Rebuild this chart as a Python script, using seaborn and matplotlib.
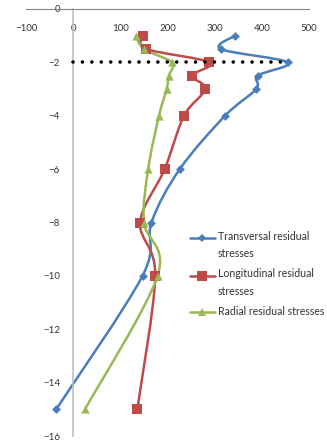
import numpy as np
import pandas as pd
import matplotlib
matplotlib.use("Agg")
import matplotlib.pyplot as plt
import seaborn as sns
from matplotlib.path import Path
from matplotlib.patches import PathPatch
from matplotlib.lines import Line2D
from matplotlib.legend_handler import HandlerLine2D

# depth below surface vs. residual stress
depth = [-1, -1.5, -2, -2.5, -3, -4, -6, -8, -10, -15]
transversal = [343, 313, 455, 391, 388, 322, 226, 166, 147, -36]
longitudinal = [147, 155, 289, 252, 280, 235, 194, 142, 174, 136]
radial = [133, 150, 209, 203, 198, 182, 159, 150, 179, 25]

labels = ["Transversal residual\nstresses",
          "Longitudinal residual\nstresses",
          "Radial residual stresses"]
colors = ["#4A7EBB", "#BE4B48", "#98B954"]
markers = ["D", "s", "^"]
msizes = [4.5, 6.5, 6]

ref_x = [0, 455]
ref_y = -2

x_ticks = [-100, 0, 100, 200, 300, 400, 500]
y_ticks = [0, -2, -4, -6, -8, -10, -12, -14, -16]

sns.set_style("white")
plt.rcParams["font.family"] = ["Lato", "DejaVu Sans"]

LEG_FS = 7.6
LINE_SP = 1.7


def smooth_path(xs, ys):
    # Excel style smoothed line: cubic bezier through every point
    p = np.column_stack([xs, ys]).astype(float)
    n = len(p)
    verts = [p[0]]
    codes = [Path.MOVETO]
    for i in range(n - 1):
        p0 = p[max(i - 1, 0)]
        p3 = p[min(i + 2, n - 1)]
        c1 = p[i] + (p[i + 1] - p0) / 6
        c2 = p[i + 1] - (p3 - p[i]) / 6
        verts += [c1, c2, p[i + 1]]
        codes += [Path.CURVE4] * 3
    return Path(verts, codes)


class FirstLineHandler(HandlerLine2D):
    """Put the legend handle level with the first line of a wrapped label."""

    def __init__(self, shift=0.0, **kw):
        super().__init__(**kw)
        self.shift = shift

    def create_artists(self, legend, orig_handle, xdescent, ydescent,
                       width, height, fontsize, trans):
        arts = super().create_artists(legend, orig_handle, xdescent, ydescent,
                                      width, height, fontsize, trans)
        for a in arts:
            a.set_ydata(np.asarray(a.get_ydata(), dtype=float) + self.shift)
        return arts


fig = plt.figure(figsize=(3.27, 4.42), dpi=100)
ax = fig.add_axes([26 / 327, 6 / 442, 283 / 327, 427 / 442])

df = pd.DataFrame({"depth": depth, "Transversal": transversal,
                   "Longitudinal": longitudinal, "Radial": radial})

handles = []
for col, lab, c, m, ms in zip(["Transversal", "Longitudinal", "Radial"],
                              labels, colors, markers, msizes):
    ax.add_patch(PathPatch(smooth_path(df[col], df["depth"]), fill=False,
                           edgecolor=c, lw=1.8, zorder=2))
    sns.scatterplot(data=df, x=col, y="depth", marker=m, color=c, s=ms ** 2,
                    edgecolor=c, linewidth=0, ax=ax, zorder=3, legend=False)
    handles.append(Line2D([], [], color=c, lw=1.8, marker=m, markersize=ms,
                          markeredgewidth=0, label=lab))

ax.plot(ref_x, [ref_y, ref_y], color="black", lw=2.6,
        linestyle=(0, (0.01, 2.6)), dash_capstyle="round", zorder=4)

ax.set_xlim(-100, 500)
ax.set_ylim(-16, 0)
ax.set_xticks(x_ticks)
ax.set_yticks(y_ticks)
ax.set_xlabel("")
ax.set_ylabel("")

for s in ["right", "top"]:
    ax.spines[s].set_visible(False)
ax.spines["left"].set_position(("data", 0))
ax.spines["bottom"].set_position(("data", 0))
ax.spines["left"].set_color("#BFBFBF")
ax.spines["left"].set_linewidth(1.2)
ax.spines["bottom"].set_color("#868686")
ax.spines["bottom"].set_linewidth(0.8)
ax.tick_params(axis="both", direction="out", length=3.5, width=0.8,
               color="#868686", labelsize=7, labelcolor="#333333")
ax.tick_params(axis="x", pad=7.5)
ax.tick_params(axis="y", pad=6)

half = 5.4
hmap = {handles[0]: FirstLineHandler(half),
        handles[1]: FirstLineHandler(half),
        handles[2]: FirstLineHandler(0.0)}
leg = ax.legend(handles=handles, handler_map=hmap, loc="upper left",
                bbox_to_anchor=(0.5795, 0.481), frameon=False, fontsize=LEG_FS,
                handlelength=2.35, handletextpad=0.3, labelspacing=0.9,
                borderaxespad=0, borderpad=0, labelcolor="#333333")
for t in leg.get_texts():
    t.set_linespacing(LINE_SP)

fig.savefig("out.png", dpi=100)
plt.close(fig)
